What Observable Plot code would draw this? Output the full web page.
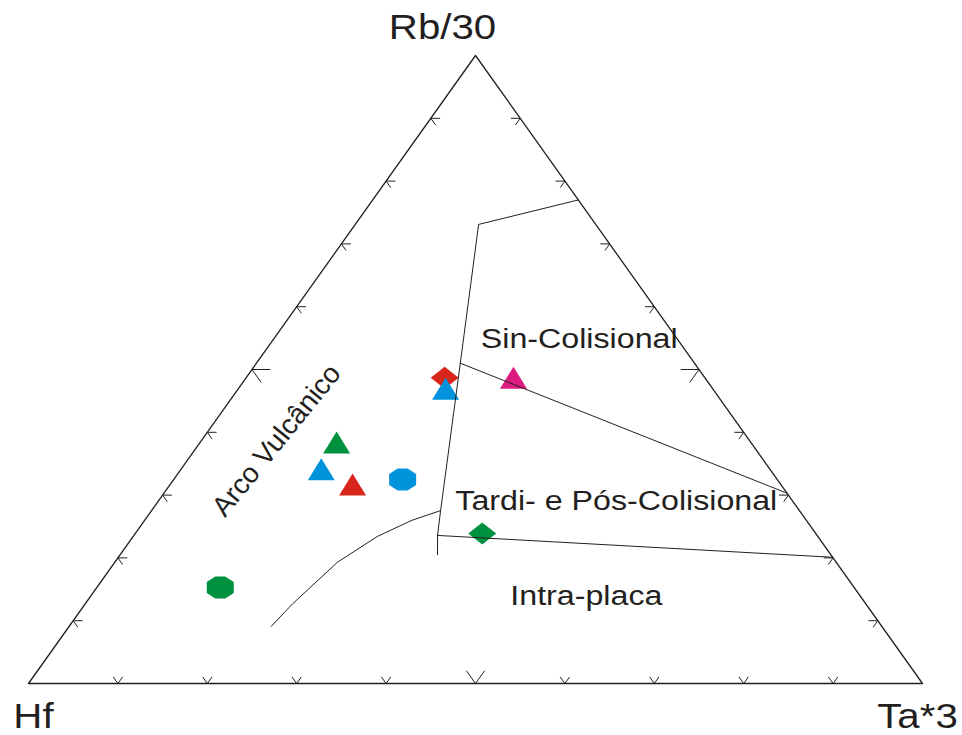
<!DOCTYPE html>
<html>
<head>
<meta charset="utf-8">
<script src="https://cdn.jsdelivr.net/npm/d3@7"></script>
<script src="https://cdn.jsdelivr.net/npm/@observablehq/plot@0.6"></script>
<style>
  html, body { margin: 0; padding: 0; background: #fff; }
  #chart svg { display: block; }
</style>
</head>
<body>
<div id="chart"></div>
<script>
// ---------- Data (ternary compositions, %: Hf, Rb/30, Ta*3) ----------
const axisNames = ["Hf", "Rb/30", "Ta*3"];

const sampleHf = [29.1, 29.9, 21.4, 46.4, 50.2, 47.9, 41.9, 70.9, 37.3];
const sampleRb = [48.7, 47.0, 48.7, 38.4, 34.1, 31.7, 32.5, 15.3, 23.9];
const sampleTa = [22.2, 23.2, 29.9, 15.3, 15.7, 20.4, 25.6, 13.8, 38.8];
const sampleShape = ["diamond", "triangle", "triangle", "triangle", "triangle", "triangle", "octagon", "octagon", "diamond"];
const sampleColor = ["#d9261c", "#0093dc", "#dc1a80", "#00913f", "#0093dc", "#d9261c", "#0093dc", "#00913f", "#00913f"];

// Field boundaries (Hf, Rb/30, Ta*3)
const boundaryMain = [[0, 77.0, 23.0], [13.1, 73.1, 13.8], [26.2, 51.0, 22.8], [40.1, 27.5, 32.3], [42.5, 23.6, 34.0], [44.0, 20.5, 35.5]];
const boundarySyn = [[26.2, 51.0, 22.8], [0, 30.3, 69.7]];
const boundaryWPG = [[42.5, 23.6, 34.0], [0, 20.1, 79.9]];
const boundaryArc = [[68.3, 9.1, 22.6], [64.1, 12.7, 23.2], [55.8, 19.3, 24.9], [49.3, 23.4, 27.3], [44.1, 26.0, 29.9], [40.1, 27.5, 32.3]];

// Field labels
const fieldNames = ["Sin-Colisional", "Tardi- e Pós-Colisional", "Intra-placa", "Arco Vulcânico"];
const fieldHf = [11.0, 19.7, 30.6, 52.9];
const fieldRb = [54.8, 29.1, 14.0, 38.7];
const fieldTa = [34.2, 51.2, 55.4, 8.4];
const fieldRotate = [0, 0, 0, -51];

// Axis ticks (percent)
const tickValues = [10, 20, 30, 40, 50, 60, 70, 80, 90];

// ---------- Helpers ----------
function toXY(h, r, t) {
  const s = h + r + t;
  const R = r / s, T = t / s;
  return { x: T + R / 2, y: R };
}
const pline = (arr) => arr.map(([h, r, t]) => toXY(h, r, t));

const K = 11;
function shape(pts) {
  return {
    draw(ctx, size) {
      const s = Math.sqrt(size / Math.PI) / K;
      ctx.moveTo(pts[0][0] * s, pts[0][1] * s);
      for (let i = 1; i < pts.length; i++) ctx.lineTo(pts[i][0] * s, pts[i][1] * s);
      ctx.closePath();
    }
  };
}
const symbols = {
  triangle: shape([[0, -11], [13.5, 11], [-13.5, 11]]),
  diamond: shape([[0, -11], [14, 0], [0, 11], [-14, 0]]),
  octagon: shape([[-5, -11], [5, -11], [13.5, -5.5], [13.5, 5.5], [5, 11], [-5, 11], [-13.5, 5.5], [-13.5, -5.5]])
};

const samples = sampleHf.map((h, i) => ({...toXY(h, sampleRb[i], sampleTa[i]), shape: sampleShape[i], color: sampleColor[i]}));

// Ticks
const ticks = [];
let tid = 0;
for (const v of tickValues) {
  const t = v / 100;
  const d = v === 50 ? 0.02 : 0.01;
  // bottom edge (Rb = 0)
  [[1 - t, d, t - d], [1 - t, 0, t], [1 - t - d, d, t]].forEach(p => ticks.push({id: tid, ...toXY(...p)}));
  tid++;
  // left edge (Ta = 0)
  [[1 - t - d, t, d], [1 - t, t, 0], [1 - t, t - d, d]].forEach(p => ticks.push({id: tid, ...toXY(...p)}));
  tid++;
  // right edge (Hf = 0)
  [[d, t, 1 - t - d], [0, t, 1 - t], [d, t - d, 1 - t]].forEach(p => ticks.push({id: tid, ...toXY(...p)}));
  tid++;
}

const outline = pline([[100, 0, 0], [0, 100, 0], [0, 0, 100], [100, 0, 0]]);
const fields = fieldNames.map((n, i) => ({name: n, rotate: fieldRotate[i], ...toXY(fieldHf[i], fieldRb[i], fieldTa[i])}));
const vertices = [
  {name: axisNames[1], ...toXY(0, 100, 0), dx: -33, dy: -28},
  {name: axisNames[0], ...toXY(100, 0, 0), dx: 5, dy: 33},
  {name: axisNames[2], ...toXY(0, 0, 100), dx: -5, dy: 33}
];

const ink = "#231f20";
const font = "Liberation Sans, Arial, Helvetica, sans-serif";

const chart = Plot.plot({
  width: 962,
  height: 735,
  marginLeft: 28,
  marginRight: 40,
  marginTop: 55,
  marginBottom: 52,
  x: {domain: [0, 1], axis: null},
  y: {domain: [0, 1], axis: null},
  style: {background: "#fff", fontFamily: font},
  marks: [
    ...samples.map(s => Plot.dot([s], {x: "x", y: "y", r: K, symbol: symbols[s.shape], fill: s.color, stroke: "none"})),
    Plot.line(outline, {x: "x", y: "y", stroke: ink, strokeWidth: 1.3}),
    Plot.line(ticks, {x: "x", y: "y", z: "id", stroke: ink, strokeWidth: 1}),
    Plot.line(pline(boundaryMain), {x: "x", y: "y", stroke: ink, strokeWidth: 1}),
    Plot.line(pline(boundarySyn), {x: "x", y: "y", stroke: ink, strokeWidth: 1}),
    Plot.line(pline(boundaryWPG), {x: "x", y: "y", stroke: ink, strokeWidth: 1}),
    Plot.line(pline(boundaryArc), {x: "x", y: "y", stroke: ink, strokeWidth: 1}),
    ...fields.map(f => Plot.text([f], {x: "x", y: "y", text: "name", rotate: f.rotate, fontSize: 28, fill: ink, textAnchor: "middle", lineAnchor: "middle"})),
    ...vertices.map(v => Plot.text([v], {x: "x", y: "y", text: "name", dx: v.dx, dy: v.dy, fontSize: 35, fill: ink, textAnchor: "middle", lineAnchor: "middle"}))
  ]
});

// Horizontal stretch of the horizontal lettering, as in the reference
chart.querySelectorAll('g[aria-label="text"] text').forEach(t => {
  const tr = t.getAttribute("transform") || "";
  if (tr.includes("rotate")) return;
  t.setAttribute("transform", tr + " scale(1.15,1)");
});

document.getElementById("chart").appendChild(chart);
</script>
</body>
</html>
